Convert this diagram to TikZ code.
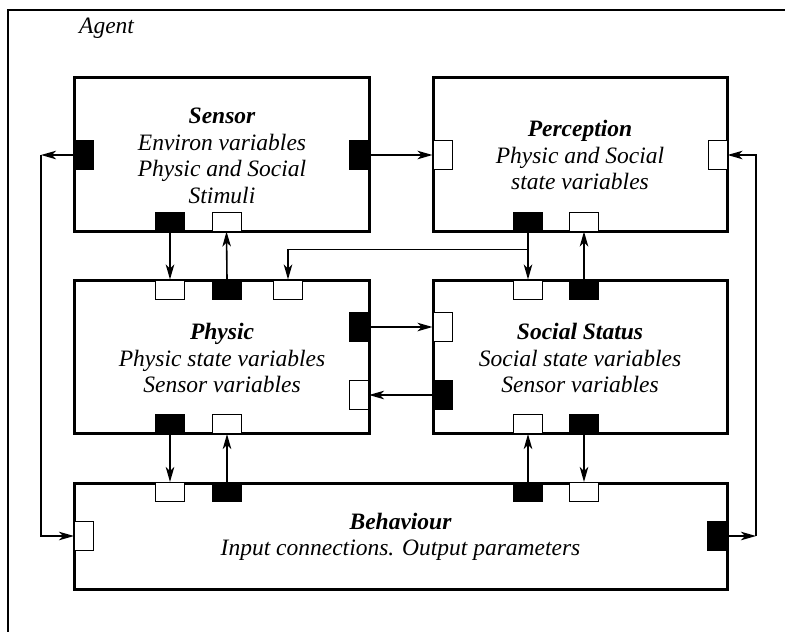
\documentclass[tikz,border=0pt]{standalone}
\usepackage{fontspec}
\setmainfont{Liberation Serif}
\usetikzlibrary{arrows.meta}
\begin{document}
\begin{tikzpicture}[x=1pt,y=-1pt,
  box/.style={draw,line width=3pt,rectangle,inner sep=0pt},
  lbl/.style={align=center,font=\fontsize{23.5}{26.5}\selectfont\itshape,inner sep=0pt},
  hopen/.style={draw,line width=1pt,fill=white,minimum width=29pt,minimum height=19pt,inner sep=0pt},
  hfull/.style={draw,line width=1pt,fill=black,minimum width=29pt,minimum height=19pt,inner sep=0pt},
  vopen/.style={draw,line width=1pt,fill=white,minimum width=19pt,minimum height=29pt,inner sep=0pt},
  vfull/.style={draw,line width=1pt,fill=black,minimum width=19pt,minimum height=29pt,inner sep=0pt},
  conn/.style={line width=1.6pt,-{Stealth[length=15pt,width=8.5pt,inset=4pt]}}]
\useasboundingbox (0,0) rectangle (785,632);
\fill[white] (0,0) rectangle (785,632);
% outer frame
\draw[line width=2pt] (8,10) rectangle (800,650);
\node[lbl,anchor=base west] (agent) at (79,33) {Agent};
% boxes
\node[box,minimum width=295pt,minimum height=154pt] (sensor) at (221.5,154) {};
\node[box,minimum width=294pt,minimum height=154pt] (perc) at (580,154) {};
\node[box,minimum width=295pt,minimum height=153pt] (phys) at (221.5,356.5) {};
\node[box,minimum width=294pt,minimum height=153pt] (soc) at (580,356.5) {};
\node[box,minimum width=653pt,minimum height=106pt] (beh) at (400.5,536) {};
% texts
\node[lbl] (tsensor) at (222,156) {\textbf{Sensor}\\Environ variables\\Physic and Social\\Stimuli};
\node[lbl] (tperc) at (580,155) {\textbf{Perception}\\Physic and Social\\state variables};
\node[lbl] (tphys) at (222,358) {\textbf{Physic}\\Physic state variables\\Sensor variables};
\node[lbl] (tsoc) at (580,358) {\textbf{Social Status}\\Social state variables\\Sensor variables};
\node[lbl] (tbeh) at (400.5,537) {\textbf{Behaviour}\\Input connections. Output parameters};
% ports: sensor
\node[vfull] (sL) at (84,155) {};
\node[vfull] (sR) at (359,155) {};
\node[hfull] (sB1) at (170,221.5) {};
\node[hopen] (sB2) at (226.5,221.5) {};
% perception
\node[vopen] (pL) at (442.5,155) {};
\node[vopen] (pR) at (717.5,155) {};
\node[hfull] (pB1) at (528,221.5) {};
\node[hopen] (pB2) at (584,221.5) {};
% physic
\node[hopen] (phT1) at (170,289.5) {};
\node[hfull] (phT2) at (227,289.5) {};
\node[hopen] (phT3) at (288,289.5) {};
\node[vfull] (phR1) at (359,327) {};
\node[vopen] (phR2) at (359,395) {};
\node[hfull] (phB1) at (170,424) {};
\node[hopen] (phB2) at (227,424) {};
% social
\node[hopen] (soT1) at (528,289.5) {};
\node[hfull] (soT2) at (584,289.5) {};
\node[vopen] (soL1) at (442.5,327) {};
\node[vfull] (soL2) at (442.5,395) {};
\node[hopen] (soB1) at (528,424) {};
\node[hfull] (soB2) at (584,424) {};
% behaviour
\node[hopen] (bT1) at (170,492) {};
\node[hfull] (bT2) at (227,492) {};
\node[hfull] (bT3) at (528,492) {};
\node[hopen] (bT4) at (584,492) {};
\node[vopen] (bL) at (84,536) {};
\node[vfull] (bR) at (717,536) {};
% corner coordinates
\coordinate (L1) at (41,155);
\coordinate (L2) at (41,536);
\coordinate (R1) at (756,536);
\coordinate (R2) at (756,155);
\coordinate (br) at (528,249.3);
% connectors
\draw[conn] (sR.east) -- (pL.west);
\draw[conn] (sB1.south) -- (phT1.north);
\draw[conn] (phT2.north) -- (sB2.south);
\draw[conn] (pB1.south) -- (soT1.north);
\draw[conn] (br) -- (phT3.north |- br) -- (phT3.north);
\draw[conn] (soT2.north) -- (pB2.south);
\draw[conn] (phR1.east) -- (soL1.west);
\draw[conn] (soL2.west) -- (phR2.east);
\draw[conn] (phB1.south) -- (bT1.north);
\draw[conn] (bT2.north) -- (phB2.south);
\draw[conn] (bT3.north) -- (soB1.south);
\draw[conn] (soB2.south) -- (bT4.north);
\draw[conn] (sL.west) -- (L1);
\draw[conn] (L1) -- (L2) -- (bL.west);
\draw[conn] (bR.east) -- (R1);
\draw[conn] (R1) -- (R2) -- (pR.east);
\end{tikzpicture}
\end{document}
